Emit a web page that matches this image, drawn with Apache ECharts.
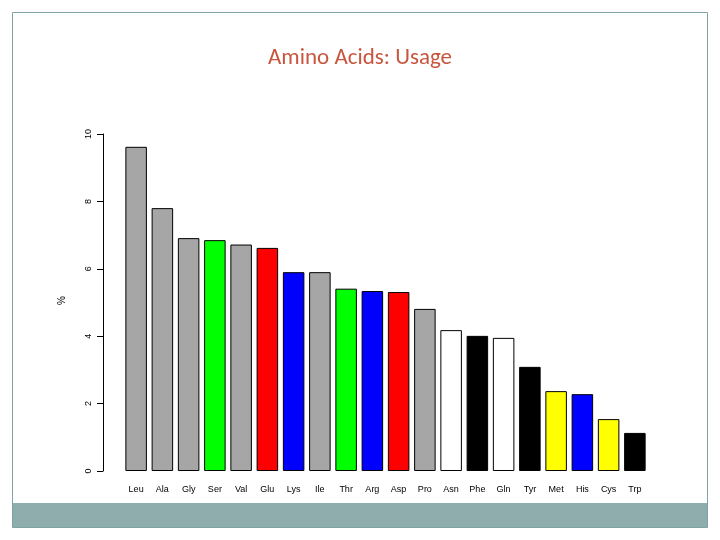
<!DOCTYPE html>
<html><head><meta charset="utf-8">
<script src="https://cdn.jsdelivr.net/npm/echarts@6/dist/echarts.min.js"></script>
<style>html,body{margin:0;padding:0;background:#fff}#c{width:720px;height:540px}</style>
</head><body><div id="c"></div>
<script>
const categories = ['Leu','Ala','Gly','Ser','Val','Glu','Lys','Ile','Thr','Arg','Asp','Pro','Asn','Phe','Gln','Tyr','Met','His','Cys','Trp'];
const values = [9.62,7.80,6.91,6.85,6.72,6.62,5.90,5.90,5.41,5.34,5.31,4.81,4.18,4.01,3.95,3.09,2.37,2.28,1.54,1.13];
const barColors = ['#a6a6a6','#a6a6a6','#a6a6a6','#00ff00','#a6a6a6','#ff0000','#0000ff','#a6a6a6','#00ff00','#0000ff','#ff0000','#a6a6a6','#ffffff','#000000','#ffffff','#000000','#ffff00','#0000ff','#ffff00','#000000'];
const yTicks = [0,2,4,6,8,10];
const chart = echarts.init(document.getElementById('c'));
const font = 'Liberation Sans';
chart.setOption({
  animation:false,
  title:{text:'Amino Acids: Usage',left:'center',top:42,textStyle:{color:'#c8553d',fontWeight:'normal',fontSize:23,fontFamily:'Calibri, Carlito, Noto Sans'}},
  graphic:[
    {type:'rect',shape:{x:12.5,y:12.5,width:695,height:515},style:{fill:null,stroke:'#7fa3a3',lineWidth:1}},
    {type:'rect',shape:{x:13,y:503,width:694,height:24},style:{fill:'#8fadad'}},
    {type:'text',left:57,top:296,rotation:Math.PI/2,style:{text:'%',fill:'#000',font:'10px '+font}}
  ],
  grid:{left:123,right:72,top:134,bottom:69},
  xAxis:{type:'category',data:categories,boundaryGap:true,axisLine:{show:false},axisTick:{show:false},
    axisLabel:{color:'#000',fontSize:9,fontFamily:font,margin:14}},
  yAxis:{type:'value',min:0,max:10,interval:2,offset:20,
    axisLine:{show:true,lineStyle:{color:'#000'}},axisTick:{show:true,length:6,lineStyle:{color:'#000'}},
    splitLine:{show:false},
    axisLabel:{color:'#000',fontSize:9,fontFamily:font,rotate:90,margin:10,formatter:v=>yTicks.includes(v)?String(v):''}},
  series:[{type:'bar',barWidth:'82%',
    data:values.map((v,i)=>({value:v,itemStyle:{color:barColors[i],borderColor:'#000',borderWidth:1}}))}]
});
</script></body></html>
